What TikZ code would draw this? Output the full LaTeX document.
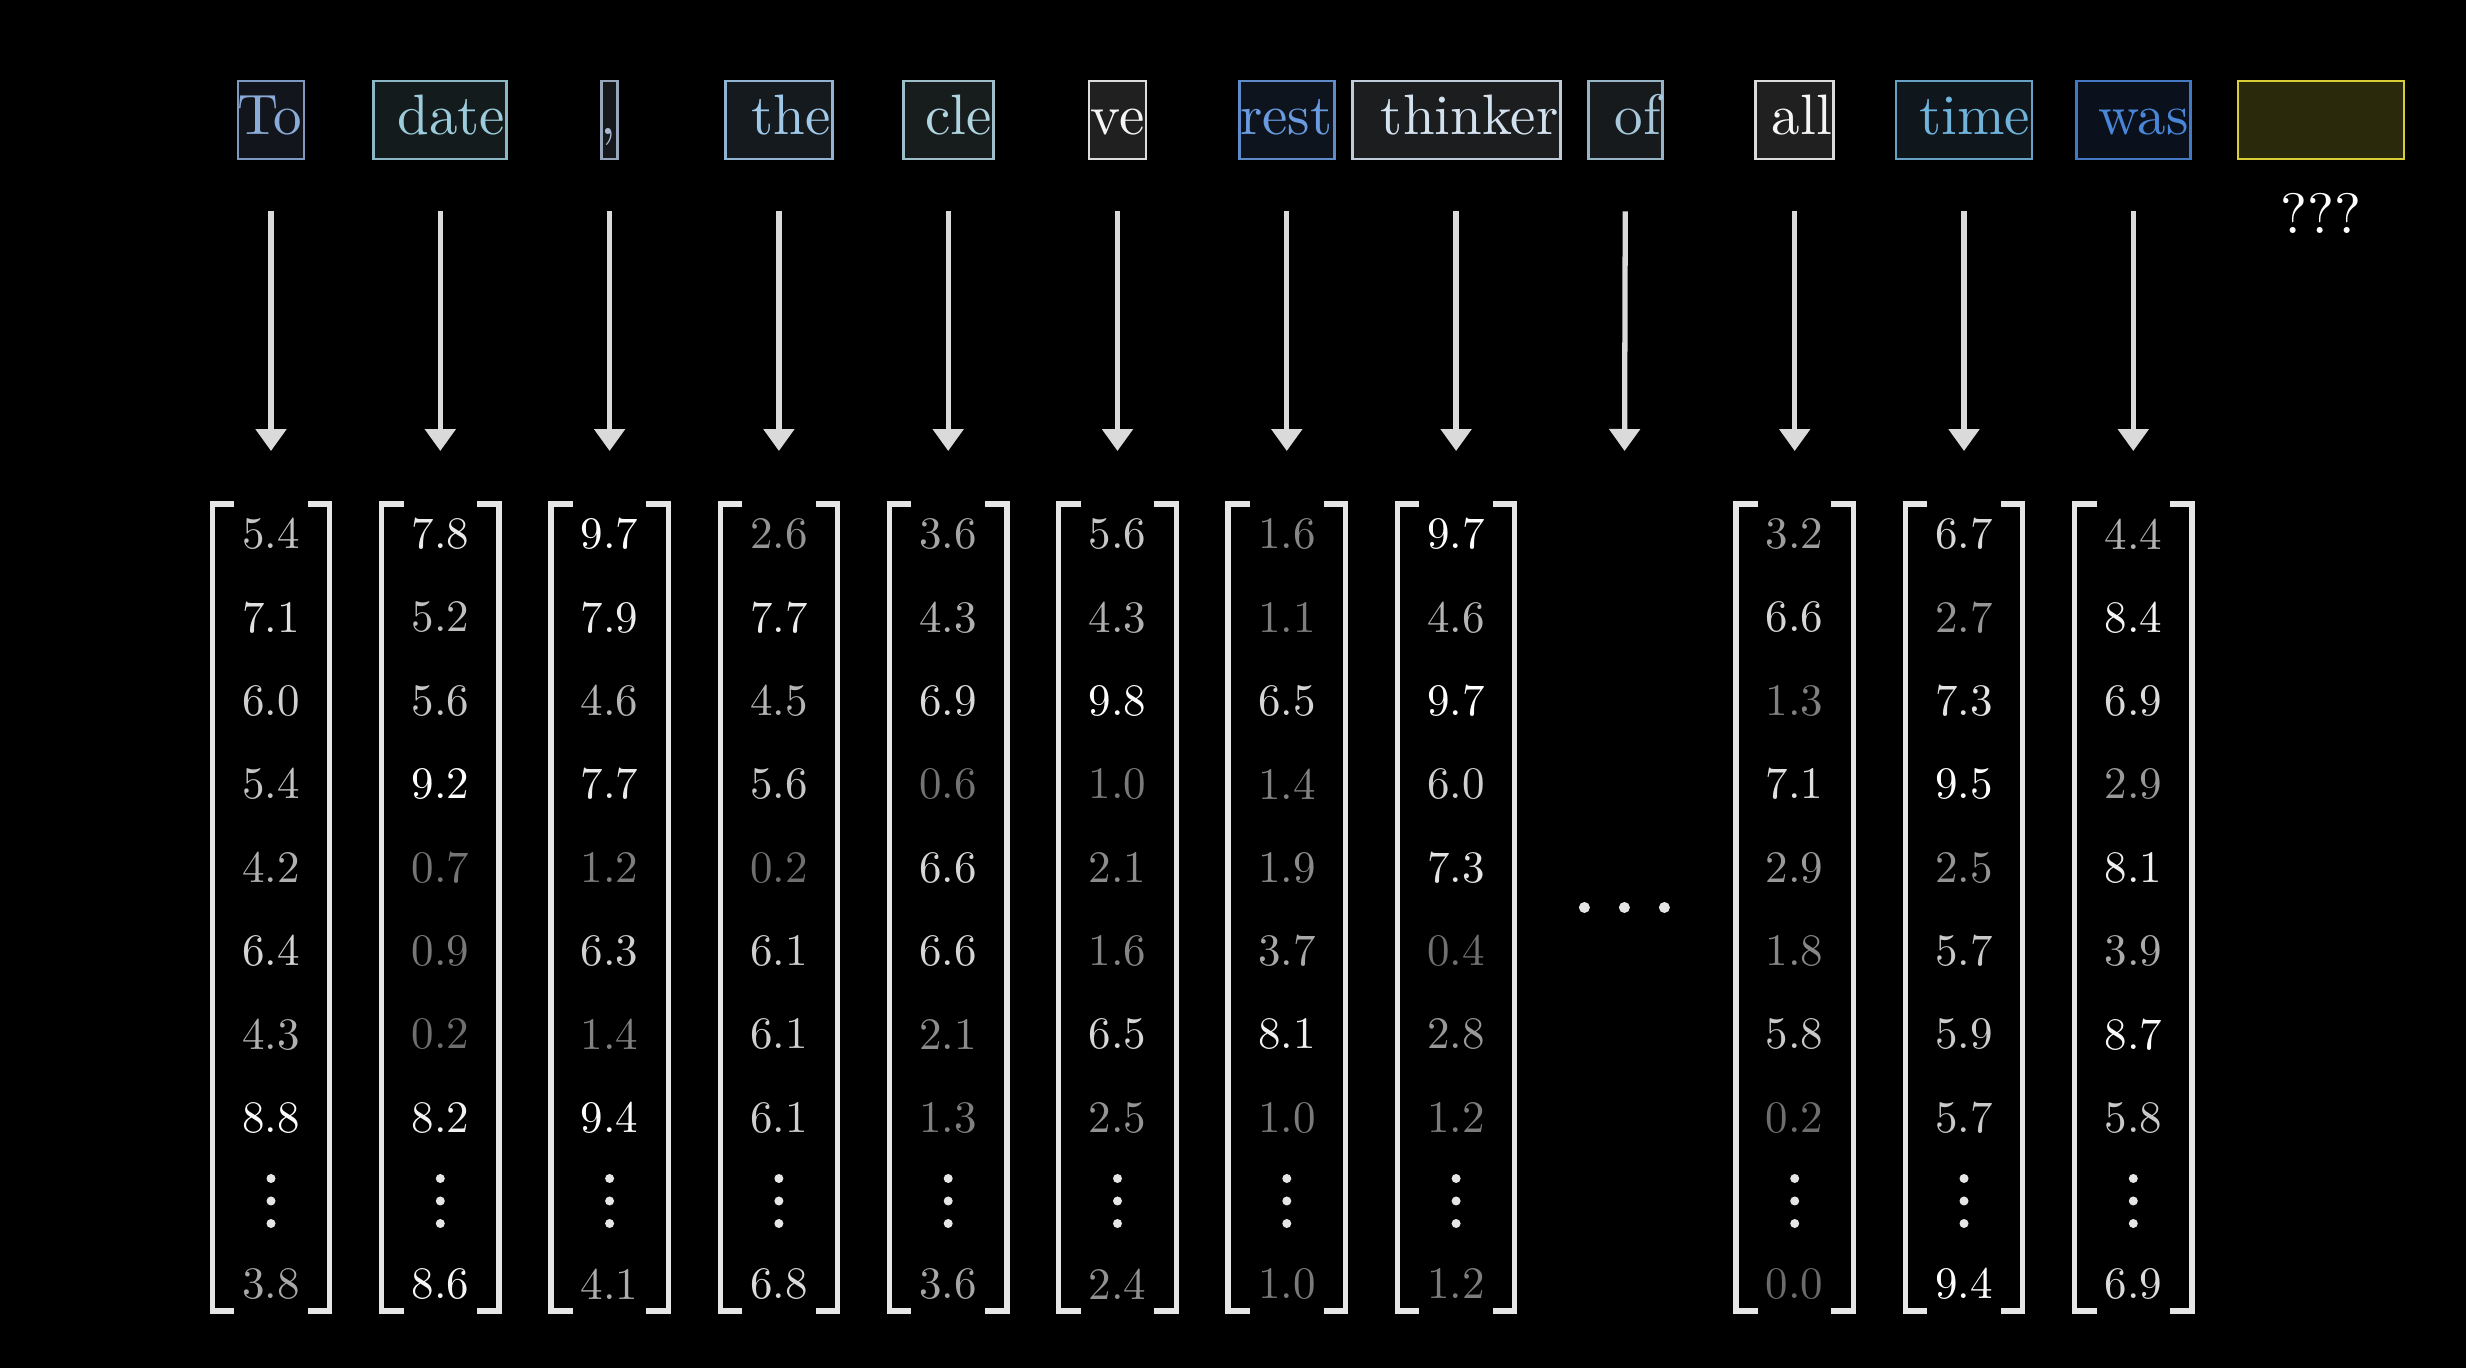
\documentclass[tikz,border=0pt]{standalone}
\usetikzlibrary{arrows.meta}

\definecolor{cTo}{HTML}{8AAAD8}
\definecolor{cDate}{HTML}{9CCCDC}
\definecolor{cComma}{HTML}{A8B8D0}
\definecolor{cThe}{HTML}{A0C8E8}
\definecolor{cCle}{HTML}{B0D4E0}
\definecolor{cVe}{HTML}{F5F5F5}
\definecolor{cRest}{HTML}{6A9AE0}
\definecolor{cThinker}{HTML}{D4E2F0}
\definecolor{cOf}{HTML}{A8C8DC}
\definecolor{cAll}{HTML}{F5F5F5}
\definecolor{cTime}{HTML}{70B4DC}
\definecolor{cWas}{HTML}{4A86D8}
\definecolor{cNext}{HTML}{D8CC38}
\definecolor{arrowgray}{HTML}{DADADA}
\definecolor{brkgray}{HTML}{E6E6E6}

\tikzset{
  tok/.style={draw=#1!90!black, fill=#1!13!black, line width=0.8pt,
    minimum height=0.78cm, inner sep=0pt},
  word/.style={text=#1, font=\normalsize, scale=1.62, inner sep=0pt,
    anchor=base east},
  vec/.style={minimum width=1.16cm, minimum height=8.05cm, inner sep=0pt},
  brk/.style={brkgray, line width=1.5pt},
  arr/.style={arrowgray, line width=1.5pt,
    -{Triangle[width=0.3cm,length=0.22cm]},
    shorten <=0.51cm, shorten >=0.53cm},
  num/.style={font=\normalsize, scale=1.28, inner sep=0pt},
}

\begin{document}
\begin{tikzpicture}[x=0.01cm, y=-0.01cm]
  %% background
  \fill[black] (0,0) rectangle (2466,1368);

  %% tokens
  \foreach \c/\w/\word/\col in {1/66/To/cTo, 2/133/date/cDate, 3/16/{,}/cComma,
      4/107/the/cThe, 5/90/cle/cCle, 6/57/ve/cVe, 7/95/rest/cRest,
      8/208/thinker/cThinker, 9/74/of/cOf, 10/78/all/cAll, 11/136/time/cTime,
      12/114/was/cWas}{
    \node[tok=\col, minimum width=\w*0.01cm] (tok\c) at ({271+(\c-1)*169.3},120) {};
    \begin{scope}
      \clip (tok\c.south west) rectangle (tok\c.north east);
      \path (tok\c.east |- 0,135) ++(-2,0) node[word=\col] (w\c) {\word};
    \end{scope}
  }

  %% next token
  \node[tok=cNext, draw=cNext, fill=cNext!20!black, minimum width=1.66cm] (tok13) at (2321,120) {};
  \node[word=white, anchor=center] (q) at (2321,213) {???};

  %% vectors
  \foreach \c/\vals in {1/{5.4,7.1,6.0,5.4,4.2,6.4,4.3,8.8,3.8},
      2/{7.8,5.2,5.6,9.2,0.7,0.9,0.2,8.2,8.6},
      3/{9.7,7.9,4.6,7.7,1.2,6.3,1.4,9.4,4.1},
      4/{2.6,7.7,4.5,5.6,0.2,6.1,6.1,6.1,6.8},
      5/{3.6,4.3,6.9,0.6,6.6,6.6,2.1,1.3,3.6},
      6/{5.6,4.3,9.8,1.0,2.1,1.6,6.5,2.5,2.4},
      7/{1.6,1.1,6.5,1.4,1.9,3.7,8.1,1.0,1.0},
      8/{9.7,4.6,9.7,6.0,7.3,0.4,2.8,1.2,1.2},
      10/{3.2,6.6,1.3,7.1,2.9,1.8,5.8,0.2,0.0},
      11/{6.7,2.7,7.3,9.5,2.5,5.7,5.9,5.7,9.4},
      12/{4.4,8.4,6.9,2.9,8.1,3.9,8.7,5.8,6.9}}{
    \node[vec] (vec\c) at ({271+(\c-1)*169.3},907.5) {};
    \draw[brk] ([xshift=0.22cm]vec\c.north west) -- (vec\c.north west)
      -- (vec\c.south west) -- ([xshift=0.22cm]vec\c.south west);
    \draw[brk] ([xshift=-0.22cm]vec\c.north east) -- (vec\c.north east)
      -- (vec\c.south east) -- ([xshift=-0.22cm]vec\c.south east);
    \foreach \v [count=\r] in \vals {
      \pgfmathtruncatemacro\g{min(100,42+6.5*\v)}
      \pgfmathsetmacro\yy{\r<9 ? 534+(\r-1)*83.4 : 1284}
      \node[num, text=white!\g!black] (num-\c-\r) at (vec\c.center |- 0,\yy) {\v};
    }
    \foreach \k in {-1,0,1}
      \fill[brkgray] (vec\c.center |- 0,1201) ++(0,\k*22.5) circle[radius=0.045cm];
  }

  %% skipped column
  \node[vec] (vec9) at (1624.4,907.5) {};
  \foreach \k in {-1,0,1}
    \fill[brkgray] (vec9.center) ++(\k*40,0) circle[radius=0.055cm];

  %% arrows
  \foreach \c in {1,...,12}
    \draw[arr] (tok\c.south) -- (vec\c.north);

\end{tikzpicture}
\end{document}
